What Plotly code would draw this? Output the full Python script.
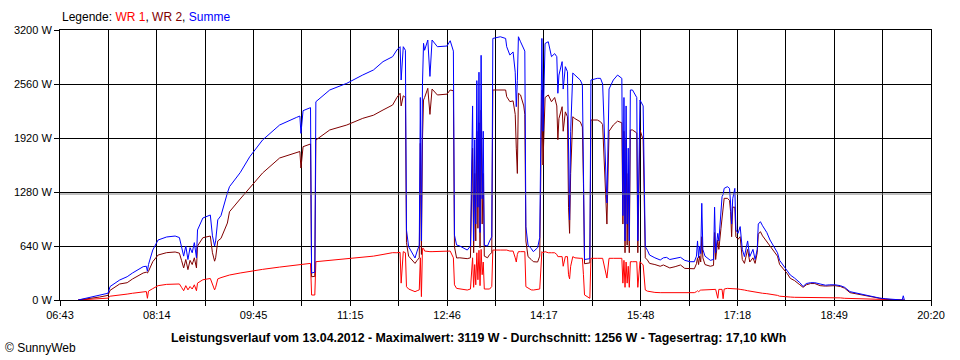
import pandas as pd
import plotly.graph_objects as go

DAY = "2012-04-13"

TIMES = [
    "07:00","07:11","07:20","07:28","07:30","07:39","07:46","07:51","08:01","08:04",
    "08:05","08:06","08:10","08:15","08:23","08:31","08:35","08:37","08:39","08:41",
    "08:43","08:45","08:47","08:49","08:51","08:52","08:57","09:04","09:06","09:08",
    "09:09","09:11","09:14","09:20","09:22","09:32","09:41","09:53","10:09","10:25",
    "10:28","10:29","10:31","10:38","10:39","10:42","10:43","10:56","11:12","11:27",
    "11:37","11:46","11:55","11:59","12:02","12:03","12:05","12:07","12:08","12:10",
    "12:13","12:16","12:18","12:20","12:21","12:22","12:23","12:24","12:25","12:28",
    "12:30","12:32","12:37","12:46","12:49","12:52","12:53","12:55","12:58","13:05",
    "13:08","13:10","13:11","13:12","13:13","13:14","13:15","13:16","13:17","13:18",
    "13:19","13:20","13:21","13:24","13:26","13:28","13:29","13:36","13:41","13:42",
    "13:45","13:48","13:50","13:51","13:52","13:53","13:55","13:58","13:59","14:00",
    "14:02","14:05","14:07","14:11","14:13","14:15","14:16","14:18","14:21","14:24",
    "14:27","14:29","14:30","14:31","14:34","14:35","14:37","14:39","14:40","14:41",
    "14:42","14:44","14:46","14:51","14:53","14:54","14:55","15:00","15:01","15:07",
    "15:10","15:12","15:16","15:18","15:22","15:26","15:30","15:31","15:32","15:33",
    "15:34","15:35","15:36","15:37","15:38","15:40","15:44","15:45","15:47","15:50",
    "15:52","15:54","15:56","16:01","16:06","16:09","16:12","16:15","16:20","16:25",
    "16:29","16:34","16:38","16:40","16:41","16:42","16:43","16:44","16:45","16:46",
    "16:48","16:53","16:56","16:57","16:58","17:00","17:01","17:03","17:04","17:05",
    "17:06","17:09","17:11","17:12","17:13","17:14","17:16","17:17","17:19","17:21",
    "17:22","17:23","17:25","17:28","17:30","17:33","17:35","17:37","17:38","17:40",
    "17:42","17:46","17:49","17:52","17:56","17:58","18:01","18:05","18:08","18:12",
    "18:17","18:20","18:23","18:27","18:31","18:36","18:41","18:45","18:50","18:55",
    "18:59","19:04","19:09","19:13","19:18","19:23","19:28","19:32","19:37","19:42",
    "19:46","19:53","19:54","19:55",
]

SUMME = [
    0, 30, 55, 80, 160, 237, 276, 320, 395, 400,
    340, 420, 592, 711, 747, 758, 740, 620, 520, 640,
    480, 620, 560, 680, 500, 830, 972, 1007, 760, 640,
    700, 950, 1000, 1268, 1343, 1509, 1698, 1896, 2074, 2165,
    2180, 1975, 2244, 2280, 320, 330, 2350, 2489, 2568, 2667,
    2726, 2825, 2884, 2963, 3002, 2607, 3002, 2960, 830, 632,
    573, 498, 580, 650, 2400, 700, 2560, 3042, 2960, 3081,
    2650, 3081, 3002, 3010, 3073, 2950, 770, 652, 640, 592,
    640, 2300, 700, 1900, 900, 2600, 1100, 2700, 800, 2900,
    1200, 2000, 650, 640, 700, 750, 3100, 3120, 3100, 3002,
    2903, 2940, 2700, 2291, 2600, 3120, 3060, 2990, 2950, 869,
    650, 610, 573, 620, 740, 3100, 2000, 3040, 3061, 2884,
    2920, 2884, 2450, 2666, 2825, 2500, 2765, 2706, 1500, 948,
    2000, 2690, 2666, 2607, 2550, 1700, 480, 490, 2607, 2627,
    2627, 2560, 1150, 2500, 2607, 2666, 2627, 1000, 2400, 700,
    2300, 900, 1800, 700, 2489, 2489, 2400, 700, 2370, 2300,
    632, 590, 533, 500, 474, 500, 505, 480, 490, 506,
    470, 454, 454, 520, 700, 500, 640, 550, 1146, 600,
    520, 470, 480, 1100, 560, 790, 700, 1000, 1225, 1250,
    1323, 1343, 1323, 1150, 900, 1200, 1323, 830, 790, 870,
    700, 600, 514, 700, 514, 600, 480, 600, 900, 928,
    880, 800, 711, 650, 560, 470, 420, 355, 296, 260,
    205, 160, 195, 205, 205, 190, 175, 180, 180, 170,
    150, 99, 85, 70, 55, 39, 30, 22, 15, 10,
    5, 0, 50, 0,
]

WR2 = [
    0, 18, 35, 55, 115, 190, 205, 249, 320, 330,
    320, 340, 454, 533, 561, 569, 555, 470, 380, 480,
    360, 470, 420, 500, 380, 640, 738, 758, 560, 460,
    500, 700, 730, 912, 1046, 1197, 1330, 1505, 1683, 1746,
    1760, 1564, 1817, 1849, 276, 280, 1896, 2015, 2074, 2153,
    2190, 2252, 2311, 2400, 2450, 2300, 2420, 2400, 680, 520,
    470, 434, 470, 500, 1857, 540, 1900, 2370, 2400, 2509,
    2200, 2500, 2430, 2440, 2489, 2480, 632, 498, 500, 490,
    500, 1800, 560, 1500, 700, 2000, 850, 2100, 620, 2250,
    900, 1500, 520, 500, 540, 560, 2489, 2489, 2489, 2410,
    2351, 2360, 2200, 1800, 1500, 2450, 2430, 2300, 2200, 700,
    514, 480, 454, 450, 520, 2489, 1600, 2400, 2430, 2350,
    2400, 2300, 1900, 2150, 2291, 2000, 2230, 2172, 1100, 790,
    1500, 2172, 2150, 2113, 2050, 1380, 430, 440, 2133, 2133,
    2113, 2080, 900, 2000, 2074, 2120, 2100, 900, 2000, 560,
    1900, 650, 1500, 560, 2015, 2015, 1980, 560, 2015, 1900,
    500, 474, 434, 420, 400, 415, 400, 380, 395, 415,
    375, 375, 370, 430, 500, 420, 520, 450, 750, 500,
    420, 400, 410, 800, 480, 711, 600, 850, 988, 1150,
    1205, 1205, 1180, 1050, 750, 1100, 1100, 750, 720, 750,
    600, 480, 434, 600, 450, 500, 434, 560, 780, 810,
    760, 690, 652, 600, 520, 420, 380, 316, 257, 230,
    180, 150, 180, 195, 195, 170, 165, 170, 170, 160,
    140, 87, 75, 60, 50, 35, 28, 20, 12, 5,
    0, 0, 0, 0,
]

WR1 = [
    0, 12, 18, 22, 45, 55, 70, 80, 95, 100,
    20, 105, 135, 170, 185, 190, 190, 150, 110, 170,
    120, 160, 130, 180, 110, 200, 240, 255, 190, 120,
    150, 250, 265, 290, 296, 320, 340, 363, 390, 415,
    420, 415, 425, 434, 59, 59, 454, 470, 490, 502,
    520, 540, 561, 560, 565, 200, 573, 560, 158, 130,
    110, 99, 110, 120, 500, 40, 612, 612, 580, 573,
    573, 573, 573, 573, 580, 500, 180, 138, 130, 118,
    130, 500, 150, 420, 180, 560, 240, 590, 170, 600,
    300, 450, 130, 130, 130, 160, 592, 592, 592, 592,
    580, 580, 500, 450, 540, 573, 573, 573, 573, 158,
    140, 120, 118, 125, 130, 573, 560, 573, 560, 560,
    560, 540, 514, 514, 514, 400, 514, 514, 300, 250,
    400, 514, 500, 494, 494, 300, 60, 20, 494, 494,
    494, 494, 260, 494, 494, 494, 494, 200, 470, 150,
    450, 200, 400, 150, 454, 454, 454, 150, 454, 415,
    118, 105, 99, 90, 87, 87, 87, 87, 87, 87,
    87, 87, 87, 99, 110, 99, 110, 118, 118, 118,
    118, 118, 118, 126, 126, 20, 126, 126, 126, 15,
    130, 138, 138, 138, 138, 138, 138, 130, 130, 126,
    126, 120, 118, 110, 105, 100, 95, 90, 90, 87,
    80, 75, 70, 60, 55, 45, 40, 39, 35, 32,
    32, 32, 32, 32, 32, 30, 28, 28, 28, 25,
    20, 18, 12, 10, 8, 5, 3, 0, 0, 0,
    0, 0, 0, 0,
]

AXIS_START = "06:43"
AXIS_END = "20:20"
X_TICK_LABELS = ["06:43", "08:14", "09:45", "11:15", "12:46",
                 "14:17", "15:48", "17:18", "18:49", "20:20"]
Y_TICKS = [0, 640, 1280, 1920, 2560, 3200]
Y_TICK_LABELS = [f"{v} W" for v in Y_TICKS]
AVERAGE_W = 1256
TITLE = ("Leistungsverlauf vom 13.04.2012 - Maximalwert: 3119 W - "
         "Durchschnitt: 1256 W - Tagesertrag: 17,10 kWh")

assert len(TIMES) == len(SUMME) == len(WR2) == len(WR1)

x = pd.to_datetime([f"{DAY} {t}" for t in TIMES])
start = pd.Timestamp(f"{DAY} {AXIS_START}")
end = pd.Timestamp(f"{DAY} {AXIS_END}")
grid = pd.date_range(start, end, periods=2 * len(X_TICK_LABELS) - 1)
grid_text = [X_TICK_LABELS[i // 2] if i % 2 == 0 else "" for i in range(len(grid))]

FONT = "Liberation Sans"

fig = go.Figure()
fig.add_trace(go.Scatter(x=x, y=WR1, mode="lines", name="WR 1",
                         line=dict(color="#FF0000", width=1), hoverinfo="skip"))
fig.add_trace(go.Scatter(x=x, y=WR2, mode="lines", name="WR 2",
                         line=dict(color="#800000", width=1), hoverinfo="skip"))
fig.add_trace(go.Scatter(x=x, y=SUMME, mode="lines", name="Summe",
                         line=dict(color="#0000FF", width=1), hoverinfo="skip"))

fig.add_shape(type="line", xref="paper", x0=0, x1=1, yref="y",
              y0=AVERAGE_W, y1=AVERAGE_W, line=dict(color="#808080", width=1),
              layer="above")

axis_common = dict(showgrid=True, gridcolor="black", gridwidth=1,
                   ticks="outside", ticklen=5, tickwidth=1, tickcolor="black",
                   showline=True, linecolor="black", linewidth=1, mirror=True,
                   zeroline=False, tickmode="array", automargin=False,
                   tickfont=dict(family=FONT, size=11, color="black"))

fig.update_layout(
    width=960, height=360,
    margin=dict(l=60, r=29, t=30, b=60),
    paper_bgcolor="white", plot_bgcolor="white",
    font=dict(family=FONT, size=11, color="black"),
    showlegend=False, hovermode=False,
    xaxis=dict(type="date", range=[start, end], tickvals=list(grid),
               ticktext=grid_text, **axis_common),
    yaxis=dict(range=[0, 3200], tickvals=Y_TICKS, ticktext=Y_TICK_LABELS,
               **axis_common),
    annotations=[
        dict(text=("Legende: <span style='color:#FF0000'>WR 1</span>, "
                   "<span style='color:#800000'>WR 2</span>, "
                   "<span style='color:#0000FF'>Summe</span>"),
             xref="paper", yref="paper", x=0, y=1 + 13 / 270,
             xanchor="left", yanchor="middle", showarrow=False,
             font=dict(family=FONT, size=12, color="black")),
        dict(text=f"<b>{TITLE}</b>", xref="paper", yref="paper",
             x=(478 - 60) / 871, y=-(338 - 300) / 270,
             xanchor="center", yanchor="middle", showarrow=False,
             font=dict(family=FONT, size=12.4, color="black")),
        dict(text="© SunnyWeb", xref="paper", yref="paper",
             x=(3 - 60) / 871, y=-(348 - 300) / 270,
             xanchor="left", yanchor="middle", showarrow=False,
             font=dict(family=FONT, size=12, color="black")),
    ],
)

fig.write_html("out.html", config={"displayModeBar": False},
               post_script="document.body.style.margin='0';")
